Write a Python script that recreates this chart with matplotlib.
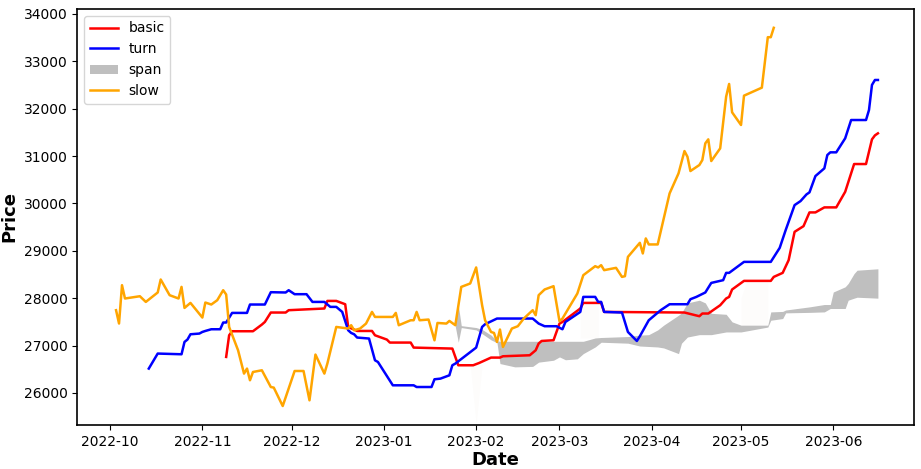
import pandas as pd
import matplotlib
matplotlib.use('Agg')
import matplotlib.pyplot as plt
import matplotlib.dates as mdates


# 转换线 turn
turn_dates = ['2022-10-14', '2022-10-17', '2022-10-25', '2022-10-26', '2022-10-27', '2022-10-28',
              '2022-10-31', '2022-11-01', '2022-11-02', '2022-11-04', '2022-11-07', '2022-11-08',
              '2022-11-09', '2022-11-11', '2022-11-16', '2022-11-17', '2022-11-22', '2022-11-24',
              '2022-11-29', '2022-11-30', '2022-12-02', '2022-12-06', '2022-12-08', '2022-12-12',
              '2022-12-14', '2022-12-16', '2022-12-18', '2022-12-20', '2022-12-21', '2022-12-22',
              '2022-12-23', '2022-12-27', '2022-12-29', '2022-12-30', '2023-01-04', '2023-01-11',
              '2023-01-12', '2023-01-17', '2023-01-18', '2023-01-20', '2023-01-23', '2023-01-24',
              '2023-01-25', '2023-02-01', '2023-02-03', '2023-02-04', '2023-02-08', '2023-02-20',
              '2023-02-22', '2023-02-24', '2023-02-28', '2023-03-02', '2023-03-03', '2023-03-08',
              '2023-03-09', '2023-03-13', '2023-03-14', '2023-03-15', '2023-03-16', '2023-03-22',
              '2023-03-24', '2023-03-27', '2023-03-28', '2023-03-31', '2023-04-04', '2023-04-07',
              '2023-04-13', '2023-04-14', '2023-04-16', '2023-04-19', '2023-04-21', '2023-04-25',
              '2023-04-26', '2023-04-27', '2023-05-02', '2023-05-11', '2023-05-14', '2023-05-16',
              '2023-05-19', '2023-05-21', '2023-05-23', '2023-05-24', '2023-05-26', '2023-05-29',
              '2023-05-30', '2023-05-31', '2023-06-02', '2023-06-05', '2023-06-07', '2023-06-12',
              '2023-06-13', '2023-06-14', '2023-06-15', '2023-06-16']
turn = [26514, 26831, 26816, 27076, 27127, 27238,
        27253, 27287, 27308, 27344, 27344, 27486,
        27486, 27689, 27689, 27866, 27866, 28126,
        28120, 28168, 28084, 28084, 27921, 27921,
        27816, 27816, 27710, 27323, 27266, 27238,
        27169, 27148, 26689, 26653, 26161, 26161,
        26125, 26125, 26288, 26302, 26372, 26584,
        26619, 26957, 27393, 27450, 27570, 27570,
        27464, 27408, 27408, 27344, 27498, 27710,
        28027, 28027, 27921, 27921, 27710, 27697,
        27287, 27097, 27196, 27534, 27746, 27872,
        27872, 27978, 28027, 28120, 28322, 28380,
        28534, 28534, 28766, 28766, 29062, 29436,
        29964, 30049, 30190, 30233, 30577, 30740,
        31021, 31078, 31078, 31374, 31760, 31760,
        31971, 32500, 32605, 32605]

# 基准线 basic
basic_dates = ['2022-11-09', '2022-11-10', '2022-11-11', '2022-11-18', '2022-11-21', '2022-11-22',
               '2022-11-24', '2022-11-29', '2022-11-30', '2022-12-12', '2022-12-13', '2022-12-16',
               '2022-12-19', '2022-12-20', '2022-12-23', '2022-12-28', '2022-12-29', '2023-01-02',
               '2023-01-03', '2023-01-10', '2023-01-11', '2023-01-24', '2023-01-26', '2023-01-31',
               '2023-02-02', '2023-02-06', '2023-02-09', '2023-02-10', '2023-02-19', '2023-02-21',
               '2023-02-22', '2023-02-23', '2023-02-27', '2023-03-01', '2023-03-02', '2023-03-08',
               '2023-03-09', '2023-03-15', '2023-03-16', '2023-04-12', '2023-04-17', '2023-04-18',
               '2023-04-20', '2023-04-24', '2023-04-26', '2023-04-27', '2023-04-28', '2023-05-02',
               '2023-05-11', '2023-05-12', '2023-05-15', '2023-05-17', '2023-05-19', '2023-05-22',
               '2023-05-24', '2023-05-26', '2023-05-29', '2023-06-02', '2023-06-05', '2023-06-08',
               '2023-06-12', '2023-06-14', '2023-06-15', '2023-06-16']
basic = [26760, 27217, 27302, 27302, 27443, 27498,
         27697, 27697, 27746, 27782, 27942, 27942,
         27872, 27393, 27308, 27308, 27217, 27126,
         27063, 27063, 26957, 26936, 26584, 26584,
         26632, 26746, 26746, 26774, 26795, 26900,
         27042, 27097, 27112, 27464, 27498, 27782,
         27900, 27900, 27710, 27697, 27619, 27676,
         27676, 27851, 27993, 28027, 28183, 28365,
         28365, 28449, 28534, 28802, 29400, 29520,
         29810, 29810, 29916, 29916, 30245, 30831,
         30831, 31352, 31436, 31479]

# 遅行線 slow
slow_dates = ['2022-10-03', '2022-10-04', '2022-10-05', '2022-10-06', '2022-10-11', '2022-10-13',
              '2022-10-17', '2022-10-18', '2022-10-21', '2022-10-24', '2022-10-25', '2022-10-26',
              '2022-10-28', '2022-10-30', '2022-11-01', '2022-11-02', '2022-11-04', '2022-11-06',
              '2022-11-08', '2022-11-09', '2022-11-10', '2022-11-13', '2022-11-15', '2022-11-16',
              '2022-11-17', '2022-11-18', '2022-11-21', '2022-11-24', '2022-11-25', '2022-11-28',
              '2022-12-02', '2022-12-05', '2022-12-07', '2022-12-09', '2022-12-12', '2022-12-13',
              '2022-12-16', '2022-12-20', '2022-12-21', '2022-12-22', '2022-12-24', '2022-12-26',
              '2022-12-28', '2022-12-29', '2023-01-04', '2023-01-05', '2023-01-06', '2023-01-10',
              '2023-01-11', '2023-01-12', '2023-01-13', '2023-01-16', '2023-01-18', '2023-01-19',
              '2023-01-22', '2023-01-23', '2023-01-25', '2023-01-27', '2023-01-30', '2023-02-01',
              '2023-02-03', '2023-02-04', '2023-02-06', '2023-02-07', '2023-02-08', '2023-02-09',
              '2023-02-10', '2023-02-13', '2023-02-15', '2023-02-17', '2023-02-20', '2023-02-21',
              '2023-02-22', '2023-02-24', '2023-02-27', '2023-03-01', '2023-03-02', '2023-03-07',
              '2023-03-09', '2023-03-13', '2023-03-14', '2023-03-15', '2023-03-16', '2023-03-20',
              '2023-03-22', '2023-03-23', '2023-03-24', '2023-03-28', '2023-03-29', '2023-03-30',
              '2023-03-31', '2023-04-03', '2023-04-07', '2023-04-10', '2023-04-12', '2023-04-13',
              '2023-04-14', '2023-04-17', '2023-04-18', '2023-04-19', '2023-04-20', '2023-04-21',
              '2023-04-24', '2023-04-26', '2023-04-27', '2023-04-28', '2023-05-01', '2023-05-02',
              '2023-05-08', '2023-05-10', '2023-05-11', '2023-05-12']
slow = [27746, 27465, 28274, 27993, 28041, 27921,
        28120, 28394, 28063, 27993, 28238, 27794,
        27900, 27746, 27591, 27908, 27866, 27957,
        28168, 28077, 27393, 26900, 26408, 26514,
        26267, 26442, 26478, 26125, 26112, 25724,
        26463, 26463, 25844, 26810, 26408, 26619,
        27393, 27359, 27429, 27323, 27359, 27464,
        27710, 27604, 27604, 27689, 27429, 27534,
        27534, 27710, 27534, 27549, 27111, 27477,
        27464, 27520, 27429, 28238, 28310, 28648,
        27851, 27534, 27287, 27266, 27076, 27338,
        26970, 27359, 27408, 27570, 27746, 27640,
        28063, 28183, 28253, 27513, 27570, 28098,
        28485, 28675, 28648, 28697, 28591, 28640,
        28449, 28464, 28872, 29168, 28944, 29261,
        29134, 29134, 30211, 30634, 31105, 30985,
        30683, 30810, 30915, 31268, 31352, 30894,
        31162, 32253, 32521, 31923, 31655, 32274,
        32443, 33508, 33508, 33706]

# 先行スパン span（上端・下端）
span_dates = ['2023-01-25', '2023-01-26', '2023-01-27', '2023-02-01', '2023-02-03', '2023-02-06',
              '2023-02-08', '2023-02-09', '2023-02-14', '2023-02-20', '2023-02-22', '2023-02-27',
              '2023-03-01', '2023-03-03', '2023-03-07', '2023-03-09', '2023-03-13', '2023-03-15',
              '2023-03-24', '2023-03-28', '2023-03-31', '2023-04-03', '2023-04-05', '2023-04-10',
              '2023-04-11', '2023-04-13', '2023-04-17', '2023-04-19', '2023-04-21', '2023-04-26',
              '2023-04-28', '2023-05-01', '2023-05-10', '2023-05-11', '2023-05-15', '2023-05-16',
              '2023-05-24', '2023-05-29', '2023-05-31', '2023-06-01', '2023-06-05', '2023-06-06',
              '2023-06-08', '2023-06-09', '2023-06-16']
span_top = [27420, 27850, 27420, 27380, 27340, 27220,
            27100, 27090, 27090, 27090, 27090, 27090,
            27090, 27090, 27090, 27090, 27160, 27170,
            27190, 27220, 27230, 27330, 27430, 27640,
            27690, 27900, 27957, 27900, 27680, 27660,
            27500, 27430, 27430, 27710, 27720, 27750,
            27816, 27866, 27866, 28130, 28240, 28310,
            28520, 28590, 28620]
span_bottom = [27400, 27070, 27380, 27330, 27250, 27120,
               27060, 26620, 26550, 26560, 26650, 26690,
               26760, 26700, 26720, 26830, 26970, 27070,
               27050, 26990, 26980, 26970, 26950, 26830,
               27050, 27180, 27230, 27230, 27230, 27287,
               27287, 27287, 27390, 27534, 27570, 27690,
               27700, 27710, 27782, 27782, 27782, 27957,
               28000, 28020, 28000]

# 很淡的填充区域
faint_regions = [
    (['2023-01-30', '2023-02-01', '2023-02-03'], [26600, 26600, 26600], [26600, 25350, 26600]),
    (['2023-03-08', '2023-03-10', '2023-03-14'], [27780, 27900, 27900], [27160, 27160, 27160]),
    (['2023-05-01', '2023-05-03', '2023-05-10'], [28000, 28365, 28365], [27430, 27430, 27430]),
]


fig, ax = plt.subplots(figsize=(9.21, 4.69), dpi=100)
fig.subplots_adjust(left=0.084, right=0.992, top=0.981, bottom=0.094)

ax.plot(pd.to_datetime(basic_dates), basic, color='red', lw=1.8, label='basic')
ax.plot(pd.to_datetime(turn_dates), turn, color='blue', lw=1.8, label='turn')

for d, top, bot in faint_regions:
    ax.fill_between(pd.to_datetime(d), top, bot, color='#fdfcfb', lw=0)

ax.fill_between(pd.to_datetime(span_dates), span_top, span_bottom,
                color='gray', alpha=0.5, lw=0, label='span')
ax.plot(pd.to_datetime(slow_dates), slow, color='orange', lw=1.8, label='slow')

ax.set_xlim(pd.Timestamp('2022-09-20'), pd.Timestamp('2023-06-28'))
ax.set_ylim(25325, 34105)
ax.xaxis.set_major_locator(mdates.MonthLocator())
ax.xaxis.set_major_formatter(mdates.DateFormatter('%Y-%m'))

ax.tick_params(labelsize=10)
ax.set_xlabel('Date', fontsize=13, fontweight='bold', labelpad=2)
ax.set_ylabel('Price', fontsize=13, fontweight='bold')
ax.legend(loc='upper left', fontsize=10)
for s in ax.spines.values():
    s.set_linewidth(1.2)

plt.savefig('out.png', dpi=100)
